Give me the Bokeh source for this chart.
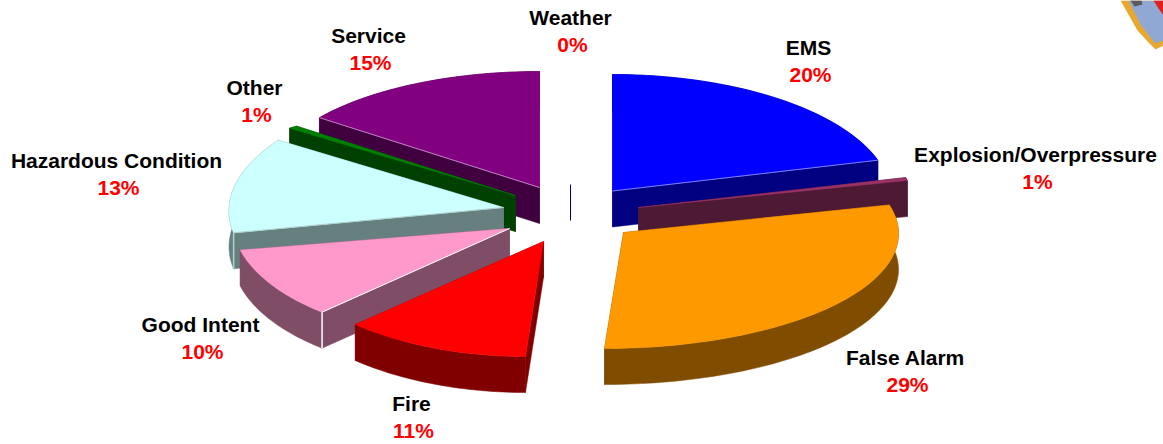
from math import sin, cos, radians
from bokeh.plotting import figure
from bokeh.models import Range1d
from bokeh.core.properties import value
from bokeh.embed import file_html
from bokeh.resources import INLINE

categories = ["EMS", "Explosion/Overpressure", "False Alarm", "Fire", "Good Intent",
              "Hazardous Condition", "Other", "Service", "Weather"]
shares = [20, 1, 29, 11, 10, 13, 1, 15, 0]

# Layout of each exploded slice: apex (ax, ay), ellipse centre (cx, cy), radii (rx, ry), shear
LAYOUT = {
    "EMS": (612, 190.5, 612, 198, 279, 124, 0),
    "Explosion/Overpressure": (638, 207, 810, 192.5, 100, 50, 0),
    "False Alarm": (623, 232, 604, 233, 294, 115, 0),
    "Fire": (543, 241, 525, 217, 267, 139, 0),
    "Good Intent": (509, 228, 479, 220, 247, 119, 0),
    "Hazardous Condition": (503, 207, 487.7, 203, 258.7, 118, -16.1),
    "Other": (515, 195, 458, 148, 200, 38, 0),
    "Service": (539, 187, 539, 183, 272, 112, 0),
    "Weather": (570, 184, 570, 184, 0, 0, 0),
}
TOP = {"EMS": "#0000ff", "Explosion/Overpressure": "#993366", "False Alarm": "#ff9900",
       "Fire": "#ff0000", "Good Intent": "#ff99cc", "Hazardous Condition": "#ccffff",
       "Other": "#008000", "Service": "#800080", "Weather": "#000080"}
WALL = {"EMS": "#000080", "Explosion/Overpressure": "#4d1933", "False Alarm": "#804d00",
        "Fire": "#800000", "Good Intent": "#804d66", "Hazardous Condition": "#668080",
        "Other": "#004000", "Service": "#400040", "Weather": "#000080"}
# lit front edge of a slice: colour, which end of the arc, drawn down the corner too
EDGE = {"Good Intent": ("#ffffff", 0, True), "EMS": ("#8080ff", -1, False),
        "Service": ("#c080c0", 0, False), "Hazardous Condition": ("#b0d0d0", 0, True)}
DEPTH = 36
ORDER = ["Weather", "Service", "Other", "Hazardous Condition", "Good Intent", "Fire",
         "EMS", "Explosion/Overpressure", "False Alarm"]
LABELS = {"Weather": (570, 17), "EMS": (808, 47), "Explosion/Overpressure": (1035, 154),
          "False Alarm": (905, 357), "Fire": (411, 403), "Good Intent": (200, 324),
          "Hazardous Condition": (116, 160), "Other": (254, 87), "Service": (368, 35)}
BADGE = [
    ("#e8a830", [1120, 1137, 1148, 1155, 1163, 1163], [0, 30, 42, 49, 45, 0]),
    ("#8fa8d4", [1128, 1140, 1150, 1155, 1163, 1163], [0, 24, 37, 43, 40, 0]),
    ("#5a5a5a", [1130, 1134, 1142, 1141], [0, 6, 4, 0]),
    ("#e02020", [1153, 1158, 1163, 1163], [0, 8, 15, 0]),
]

W, H = 1163, 444
p = figure(width=W, height=H, output_backend="svg", toolbar_location=None,
           x_range=Range1d(0, W), y_range=Range1d(H, 0), min_border=0,
           outline_line_color=None)
p.axis.visible = False
p.grid.visible = False

start = 0
spans = {}
for c, v in zip(categories, shares):
    spans[c] = (start, start + v)
    start += v

for fill, bx, by in BADGE:
    p.patch(bx, by, fill_color=fill, line_color=None)

for c in ORDER:
    a0, a1 = spans[c]
    ax, ay, cx, cy, rx, ry, sk = LAYOUT[c]
    if a1 == a0:
        p.line([ax, ax], [ay, ay + DEPTH], line_color=WALL[c], line_width=1)
        continue
    n = max(3, int((a1 - a0) * 3))
    arcx, arcy = [], []
    for i in range(n + 1):
        t = radians((a0 + (a1 - a0) * i / n) * 3.6)
        arcx.append(cx + rx * sin(t) - sk * cos(t))
        arcy.append(cy - ry * cos(t))
    for ex, ey in ((arcx[0], arcy[0]), (arcx[-1], arcy[-1])):
        p.patch([ax, ex, ex, ax], [ay, ey, ey + DEPTH, ay + DEPTH],
                fill_color=WALL[c], line_color=WALL[c], line_width=0.5)
    p.patch(arcx + arcx[::-1], arcy + [y + DEPTH for y in arcy[::-1]],
            fill_color=WALL[c], line_color=WALL[c], line_width=0.5)
    p.patch([ax] + arcx, [ay] + arcy, fill_color=TOP[c], line_color=TOP[c], line_width=0.5)
    if c in EDGE:
        col, end, corner = EDGE[c]
        ex, ey = arcx[end], arcy[end]
        p.line([ax, ex], [ay, ey], line_color=col, line_width=1)
        if corner:
            p.line([ex, ex], [ey, ey + DEPTH], line_color=col, line_width=1.5)

font = value("Liberation Sans")
for c, v in zip(categories, shares):
    x, y = LABELS[c]
    p.text([x], [y], text=[c], text_font=font, text_font_size="21px", text_font_style="bold",
           text_color="#000000", text_align="center", text_baseline="middle")
    p.text([x + 2], [y + 27], text=[f"{v}%"], text_font=font, text_font_size="21px",
           text_font_style="bold", text_color="#ff0000", text_align="center", text_baseline="middle")

open("out.html", "w").write(file_html(p, INLINE))
